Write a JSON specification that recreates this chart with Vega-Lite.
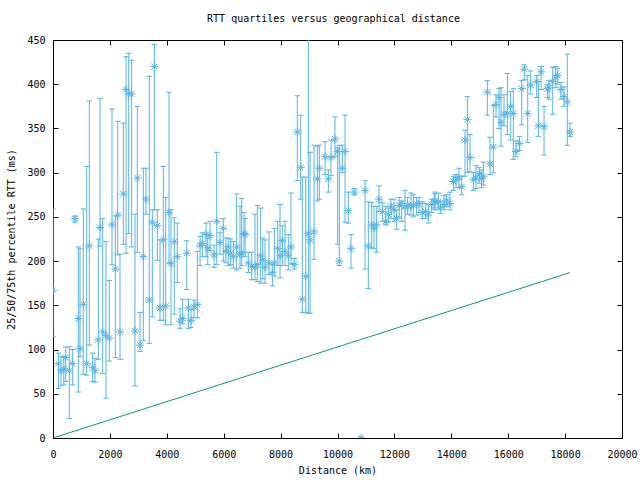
{
  "$schema": "https://vega.github.io/schema/vega-lite/v6.json",
  "autosize": "none",
  "width": 569,
  "height": 398,
  "padding": {"left": 53, "top": 40, "right": 18, "bottom": 42},
  "background": "white",
  "title": {"text": "RTT quartiles versus geographical distance", "font": "DejaVu Sans Mono", "fontSize": 10, "fontWeight": "normal", "color": "black", "anchor": "middle", "offset": 11, "dx": -4},
  "config": {
    "view": {"stroke": "black", "strokeWidth": 1},
    "axis": {"grid": false, "domainColor": "black", "tickColor": "black", "labelFont": "DejaVu Sans Mono", "labelFontSize": 10, "labelColor": "black", "titleFont": "DejaVu Sans Mono", "titleFontSize": 10, "titleFontWeight": "normal", "titleColor": "black", "tickSize": -5, "domainWidth": 1, "tickWidth": 1}
  },
  "datasets": {
    "rtt": [
      {"d": 0, "med": 167, "lo": 115, "hi": 259},
      {"d": 190, "med": 84, "lo": 56, "hi": 96},
      {"d": 280, "med": 76, "lo": 59, "hi": 92},
      {"d": 380, "med": 78, "lo": 60, "hi": 92},
      {"d": 446, "med": 91, "lo": 64, "hi": 103},
      {"d": 573, "med": 76, "lo": 22, "hi": 103},
      {"d": 692, "med": 84, "lo": 60, "hi": 100},
      {"d": 773, "med": 248, "lo": 244, "hi": 251},
      {"d": 890, "med": 135, "lo": 52, "hi": 216},
      {"d": 949, "med": 101, "lo": 92, "hi": 214},
      {"d": 1066, "med": 151, "lo": 72, "hi": 259},
      {"d": 1184, "med": 84, "lo": 71, "hi": 307},
      {"d": 1277, "med": 217, "lo": 105, "hi": 381},
      {"d": 1395, "med": 80, "lo": 64, "hi": 96},
      {"d": 1476, "med": 76, "lo": 63, "hi": 90},
      {"d": 1593, "med": 111, "lo": 89, "hi": 225},
      {"d": 1652, "med": 238, "lo": 217, "hi": 384},
      {"d": 1746, "med": 120, "lo": 73, "hi": 248},
      {"d": 1863, "med": 116, "lo": 45, "hi": 222},
      {"d": 1980, "med": 113, "lo": 87, "hi": 178},
      {"d": 2074, "med": 241, "lo": 196, "hi": 372},
      {"d": 2191, "med": 191, "lo": 91, "hi": 251},
      {"d": 2274, "med": 252, "lo": 207, "hi": 358},
      {"d": 2355, "med": 120, "lo": 89, "hi": 208},
      {"d": 2472, "med": 276, "lo": 219, "hi": 356},
      {"d": 2566, "med": 394, "lo": 209, "hi": 431},
      {"d": 2660, "med": 389, "lo": 231, "hi": 435},
      {"d": 2765, "med": 389, "lo": 216, "hi": 427},
      {"d": 2882, "med": 121, "lo": 59, "hi": 253},
      {"d": 2964, "med": 294, "lo": 210, "hi": 375},
      {"d": 3058, "med": 105, "lo": 98, "hi": 142},
      {"d": 3175, "med": 205, "lo": 110, "hi": 305},
      {"d": 3269, "med": 270, "lo": 253, "hi": 305},
      {"d": 3386, "med": 156, "lo": 107, "hi": 409},
      {"d": 3491, "med": 244, "lo": 137, "hi": 258},
      {"d": 3562, "med": 420, "lo": 258, "hi": 445},
      {"d": 3667, "med": 240, "lo": 201, "hi": 258},
      {"d": 3761, "med": 147, "lo": 133, "hi": 224},
      {"d": 3878, "med": 224, "lo": 133, "hi": 307},
      {"d": 3960, "med": 149, "lo": 128, "hi": 272},
      {"d": 4077, "med": 255, "lo": 198, "hi": 391},
      {"d": 4148, "med": 197, "lo": 128, "hi": 258},
      {"d": 4264, "med": 222, "lo": 140, "hi": 249},
      {"d": 4370, "med": 205, "lo": 176, "hi": 243},
      {"d": 4464, "med": 132, "lo": 124, "hi": 146},
      {"d": 4558, "med": 135, "lo": 129, "hi": 157},
      {"d": 4699, "med": 209, "lo": 168, "hi": 223},
      {"d": 4757, "med": 147, "lo": 124, "hi": 157},
      {"d": 4851, "med": 133, "lo": 125, "hi": 145},
      {"d": 4957, "med": 148, "lo": 136, "hi": 156},
      {"d": 5073, "med": 151, "lo": 136, "hi": 211},
      {"d": 5170, "med": 218, "lo": 195, "hi": 228},
      {"d": 5250, "med": 220, "lo": 205, "hi": 232},
      {"d": 5380, "med": 230, "lo": 205, "hi": 243},
      {"d": 5440, "med": 215, "lo": 196, "hi": 226},
      {"d": 5520, "med": 229, "lo": 212, "hi": 245},
      {"d": 5660, "med": 207, "lo": 193, "hi": 218},
      {"d": 5755, "med": 245, "lo": 196, "hi": 323},
      {"d": 5870, "med": 221, "lo": 208, "hi": 232},
      {"d": 5985, "med": 237, "lo": 200, "hi": 248},
      {"d": 6080, "med": 211, "lo": 198, "hi": 226},
      {"d": 6160, "med": 216, "lo": 195, "hi": 226},
      {"d": 6245, "med": 209, "lo": 196, "hi": 225},
      {"d": 6340, "med": 205, "lo": 192, "hi": 222},
      {"d": 6455, "med": 216, "lo": 190, "hi": 276},
      {"d": 6573, "med": 208, "lo": 192, "hi": 262},
      {"d": 6632, "med": 208, "lo": 195, "hi": 271},
      {"d": 6714, "med": 231, "lo": 210, "hi": 255},
      {"d": 6749, "med": 230, "lo": 205, "hi": 248},
      {"d": 6866, "med": 198, "lo": 187, "hi": 210},
      {"d": 6984, "med": 194, "lo": 179, "hi": 210},
      {"d": 7100, "med": 193, "lo": 179, "hi": 253},
      {"d": 7183, "med": 196, "lo": 177, "hi": 263},
      {"d": 7300, "med": 206, "lo": 175, "hi": 260},
      {"d": 7372, "med": 201, "lo": 180, "hi": 226},
      {"d": 7453, "med": 193, "lo": 175, "hi": 224},
      {"d": 7593, "med": 198, "lo": 185, "hi": 233},
      {"d": 7710, "med": 187, "lo": 172, "hi": 196},
      {"d": 7780, "med": 198, "lo": 183, "hi": 237},
      {"d": 7900, "med": 214, "lo": 195, "hi": 245},
      {"d": 7980, "med": 206, "lo": 181, "hi": 264},
      {"d": 8060, "med": 223, "lo": 195, "hi": 240},
      {"d": 8155, "med": 211, "lo": 195, "hi": 245},
      {"d": 8272, "med": 206, "lo": 190, "hi": 230},
      {"d": 8366, "med": 216, "lo": 197, "hi": 277},
      {"d": 8482, "med": 196, "lo": 191, "hi": 203},
      {"d": 8588, "med": 346, "lo": 291, "hi": 387},
      {"d": 8706, "med": 306, "lo": 270, "hi": 365},
      {"d": 8764, "med": 157, "lo": 142, "hi": 295},
      {"d": 8882, "med": 183, "lo": 142, "hi": 295},
      {"d": 8975, "med": 231, "lo": 141, "hi": 470},
      {"d": 9035, "med": 224, "lo": 141, "hi": 323},
      {"d": 9176, "med": 233, "lo": 202, "hi": 331},
      {"d": 9292, "med": 293, "lo": 268, "hi": 330},
      {"d": 9362, "med": 305, "lo": 270, "hi": 331},
      {"d": 9562, "med": 318, "lo": 298, "hi": 335},
      {"d": 9679, "med": 293, "lo": 278, "hi": 303},
      {"d": 9772, "med": 317, "lo": 297, "hi": 337},
      {"d": 9912, "med": 338, "lo": 318, "hi": 363},
      {"d": 10006, "med": 324, "lo": 219, "hi": 328},
      {"d": 10064, "med": 200, "lo": 195, "hi": 331},
      {"d": 10170, "med": 305, "lo": 300, "hi": 331},
      {"d": 10264, "med": 324, "lo": 244, "hi": 365},
      {"d": 10380, "med": 257, "lo": 243, "hi": 278},
      {"d": 10475, "med": 214, "lo": 192, "hi": 230},
      {"d": 10592, "med": 278, "lo": 275, "hi": 282},
      {"d": 10827, "med": 0, "lo": 0, "hi": 0},
      {"d": 10967, "med": 280, "lo": 191, "hi": 291},
      {"d": 11084, "med": 217, "lo": 169, "hi": 267},
      {"d": 11201, "med": 241, "lo": 215, "hi": 266},
      {"d": 11283, "med": 237, "lo": 214, "hi": 262},
      {"d": 11377, "med": 241, "lo": 210, "hi": 262},
      {"d": 11459, "med": 270, "lo": 256, "hi": 285},
      {"d": 11576, "med": 256, "lo": 245, "hi": 266},
      {"d": 11694, "med": 245, "lo": 241, "hi": 262},
      {"d": 11787, "med": 253, "lo": 244, "hi": 260},
      {"d": 11881, "med": 262, "lo": 248, "hi": 270},
      {"d": 11986, "med": 258, "lo": 245, "hi": 270},
      {"d": 12080, "med": 248, "lo": 236, "hi": 258},
      {"d": 12173, "med": 263, "lo": 250, "hi": 272},
      {"d": 12256, "med": 265, "lo": 245, "hi": 268},
      {"d": 12373, "med": 261, "lo": 235, "hi": 280},
      {"d": 12467, "med": 263, "lo": 253, "hi": 272},
      {"d": 12584, "med": 262, "lo": 252, "hi": 277},
      {"d": 12665, "med": 263, "lo": 250, "hi": 275},
      {"d": 12783, "med": 265, "lo": 252, "hi": 272},
      {"d": 12865, "med": 265, "lo": 255, "hi": 272},
      {"d": 12981, "med": 255, "lo": 248, "hi": 267},
      {"d": 13100, "med": 256, "lo": 248, "hi": 265},
      {"d": 13193, "med": 252, "lo": 243, "hi": 264},
      {"d": 13310, "med": 264, "lo": 255, "hi": 270},
      {"d": 13404, "med": 267, "lo": 258, "hi": 276},
      {"d": 13427, "med": 268, "lo": 260, "hi": 278},
      {"d": 13545, "med": 267, "lo": 258, "hi": 277},
      {"d": 13627, "med": 261, "lo": 254, "hi": 268},
      {"d": 13743, "med": 264, "lo": 258, "hi": 274},
      {"d": 13838, "med": 269, "lo": 262, "hi": 275},
      {"d": 13955, "med": 265, "lo": 258, "hi": 278},
      {"d": 14072, "med": 290, "lo": 280, "hi": 296},
      {"d": 14165, "med": 293, "lo": 283, "hi": 298},
      {"d": 14270, "med": 294, "lo": 283, "hi": 305},
      {"d": 14366, "med": 284, "lo": 275, "hi": 296},
      {"d": 14482, "med": 337, "lo": 296, "hi": 348},
      {"d": 14564, "med": 360, "lo": 300, "hi": 386},
      {"d": 14658, "med": 317, "lo": 301, "hi": 343},
      {"d": 14775, "med": 292, "lo": 280, "hi": 300},
      {"d": 14869, "med": 294, "lo": 282, "hi": 308},
      {"d": 14986, "med": 299, "lo": 288, "hi": 306},
      {"d": 15068, "med": 293, "lo": 283, "hi": 303},
      {"d": 15126, "med": 296, "lo": 286, "hi": 312},
      {"d": 15267, "med": 391, "lo": 365, "hi": 404},
      {"d": 15361, "med": 310, "lo": 298, "hi": 340},
      {"d": 15478, "med": 329, "lo": 300, "hi": 376},
      {"d": 15572, "med": 377, "lo": 363, "hi": 388},
      {"d": 15678, "med": 385, "lo": 350, "hi": 395},
      {"d": 15748, "med": 357, "lo": 330, "hi": 396},
      {"d": 15853, "med": 366, "lo": 353, "hi": 388},
      {"d": 15970, "med": 367, "lo": 343, "hi": 412},
      {"d": 16088, "med": 375, "lo": 337, "hi": 392},
      {"d": 16180, "med": 367, "lo": 315, "hi": 395},
      {"d": 16275, "med": 324, "lo": 318, "hi": 336},
      {"d": 16392, "med": 333, "lo": 325, "hi": 341},
      {"d": 16475, "med": 395, "lo": 354, "hi": 404},
      {"d": 16566, "med": 417, "lo": 405, "hi": 422},
      {"d": 16686, "med": 367, "lo": 334, "hi": 410},
      {"d": 16791, "med": 399, "lo": 389, "hi": 415},
      {"d": 17002, "med": 403, "lo": 385, "hi": 410},
      {"d": 17060, "med": 353, "lo": 341, "hi": 403},
      {"d": 17155, "med": 414, "lo": 394, "hi": 420},
      {"d": 17260, "med": 352, "lo": 320, "hi": 375},
      {"d": 17377, "med": 395, "lo": 385, "hi": 400},
      {"d": 17435, "med": 396, "lo": 383, "hi": 404},
      {"d": 17565, "med": 403, "lo": 366, "hi": 419},
      {"d": 17670, "med": 408, "lo": 396, "hi": 420},
      {"d": 17740, "med": 410, "lo": 400, "hi": 418},
      {"d": 17856, "med": 394, "lo": 383, "hi": 402},
      {"d": 17961, "med": 386, "lo": 375, "hi": 397},
      {"d": 18077, "med": 380, "lo": 331, "hi": 434},
      {"d": 18172, "med": 346, "lo": 341, "hi": 356}
    ],
    "fiber": [
      {"d": 0, "rtt": 0},
      {"d": 18172, "rtt": 187}
    ]
  },
  "layer": [
    {
      "data": {"name": "rtt"},
      "mark": {"type": "rule", "color": "#56b4e9", "strokeWidth": 1, "clip": true},
      "encoding": {
        "x": {"field": "d", "type": "quantitative", "scale": {"domain": [0, 20000], "nice": false, "zero": false}, "axis": {"orient": "bottom", "values": [0, 2000, 4000, 6000, 8000, 10000, 12000, 14000, 16000, 18000, 20000], "format": "d", "labelPadding": 16, "title": "Distance (km)", "titlePadding": 6, "labelFlush": false}},
        "y": {"field": "lo", "type": "quantitative", "scale": {"domain": [0, 450], "nice": false}, "axis": {"orient": "left", "values": [0, 50, 100, 150, 200, 250, 300, 350, 400, 450], "labelPadding": 13, "title": "25/50/75th percentile RTT (ms)", "titlePadding": 10}},
        "y2": {"field": "hi"}
      }
    },
    {
      "data": {"name": "rtt"},
      "mark": {"type": "point", "shape": "M-1,0L1,0", "size": 30, "filled": false, "color": "#56b4e9", "strokeWidth": 1, "opacity": 1, "clip": true},
      "encoding": {
        "x": {"field": "d", "type": "quantitative", "axis": null},
        "y": {"field": "lo", "type": "quantitative", "axis": null}
      }
    },
    {
      "data": {"name": "rtt"},
      "mark": {"type": "point", "shape": "M-1,0L1,0", "size": 30, "filled": false, "color": "#56b4e9", "strokeWidth": 1, "opacity": 1, "clip": true},
      "encoding": {
        "x": {"field": "d", "type": "quantitative", "axis": null},
        "y": {"field": "hi", "type": "quantitative", "axis": null}
      }
    },
    {
      "data": {"name": "rtt"},
      "mark": {"type": "point", "shape": "M-1,0L1,0M0,-1L0,1M-0.75,-0.75L0.75,0.75M-0.75,0.75L0.75,-0.75", "size": 64, "filled": false, "color": "#56b4e9", "strokeWidth": 1, "opacity": 1, "clip": true},
      "encoding": {
        "x": {"field": "d", "type": "quantitative", "axis": null},
        "y": {"field": "med", "type": "quantitative", "axis": null}
      }
    },
    {
      "data": {"name": "fiber"},
      "mark": {"type": "line", "color": "#009e73", "strokeWidth": 1, "clip": true},
      "encoding": {
        "x": {"field": "d", "type": "quantitative", "axis": {"orient": "top", "values": [0, 2000, 4000, 6000, 8000, 10000, 12000, 14000, 16000, 18000, 20000], "labels": false, "title": null}},
        "y": {"field": "rtt", "type": "quantitative", "axis": {"orient": "right", "values": [0, 50, 100, 150, 200, 250, 300, 350, 400, 450], "labels": false, "title": null}}
      }
    }
  ],
  "resolve": {"axis": {"x": "independent", "y": "independent"}}
}
